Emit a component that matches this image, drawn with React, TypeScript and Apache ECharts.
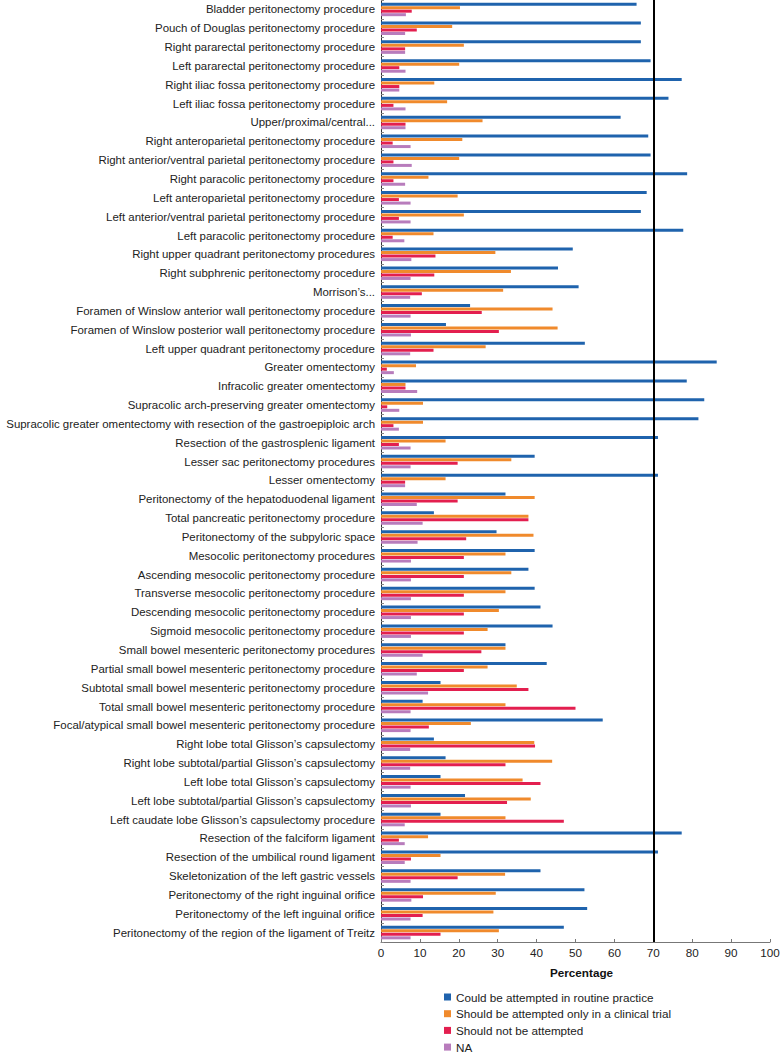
import React, { useEffect, useRef } from "react";
import * as echarts from "echarts";

const categories = [
  "Bladder peritonectomy procedure",
  "Pouch of Douglas peritonectomy procedure",
  "Right pararectal peritonectomy procedure",
  "Left pararectal peritonectomy procedure",
  "Right iliac fossa peritonectomy procedure",
  "Left iliac fossa peritonectomy procedure",
  "Upper/proximal/central...",
  "Right anteroparietal peritonectomy procedure",
  "Right anterior/ventral parietal peritonectomy procedure",
  "Right paracolic peritonectomy procedure",
  "Left anteroparietal peritonectomy procedure",
  "Left anterior/ventral parietal peritonectomy procedure",
  "Left paracolic peritonectomy procedure",
  "Right upper quadrant peritonectomy procedures",
  "Right subphrenic peritonectomy procedure",
  "Morrison\u2019s...",
  "Foramen of Winslow anterior wall peritonectomy procedure",
  "Foramen of Winslow posterior wall peritonectomy procedure",
  "Left upper quadrant peritonectomy procedure",
  "Greater omentectomy",
  "Infracolic greater omentectomy",
  "Supracolic arch-preserving greater omentectomy",
  "Supracolic greater omentectomy with resection of the gastroepiploic arch",
  "Resection of the gastrosplenic ligament",
  "Lesser sac peritonectomy procedures",
  "Lesser omentectomy",
  "Peritonectomy of the hepatoduodenal ligament",
  "Total pancreatic peritonectomy procedure",
  "Peritonectomy of the subpyloric space",
  "Mesocolic peritonectomy procedures",
  "Ascending mesocolic peritonectomy procedure",
  "Transverse mesocolic peritonectomy procedure",
  "Descending mesocolic peritonectomy procedure",
  "Sigmoid mesocolic peritonectomy procedure",
  "Small bowel mesenteric peritonectomy procedures",
  "Partial small bowel mesenteric peritonectomy procedure",
  "Subtotal small bowel mesenteric peritonectomy procedure",
  "Total small bowel mesenteric peritonectomy procedure",
  "Focal/atypical small bowel mesenteric peritonectomy procedure",
  "Right lobe total Glisson\u2019s capsulectomy",
  "Right lobe subtotal/partial Glisson\u2019s capsulectomy",
  "Left lobe total Glisson\u2019s capsulectomy",
  "Left lobe subtotal/partial Glisson\u2019s capsulectomy",
  "Left caudate lobe Glisson\u2019s capsulectomy procedure",
  "Resection of the falciform ligament",
  "Resection of the umbilical round ligament",
  "Skeletonization of the left gastric vessels",
  "Peritonectomy of the right inguinal orifice",
  "Peritonectomy of the left inguinal orifice",
  "Peritonectomy of the region of the ligament of Treitz",
];

const routine = [
  65.7, 66.8, 66.8, 69.3, 77.3, 73.9, 61.6, 68.7, 69.3, 78.7,
  68.3, 66.8, 77.7, 49.3, 45.5, 50.8, 22.9, 16.7, 52.4, 86.3,
  78.6, 83.1, 81.6, 71.2, 39.5, 71.2, 32.0, 13.6, 29.7, 39.5,
  37.9, 39.5, 41.0, 44.1, 32.0, 42.6, 15.3, 10.7, 57.0, 13.6,
  16.6, 15.3, 21.6, 15.3, 77.3, 71.2, 41.0, 52.3, 53.0, 47.0,
];

const clinicalTrial = [
  20.3, 18.3, 21.3, 20.1, 13.7, 17.0, 26.1, 20.9, 20.1, 12.2,
  19.7, 21.3, 13.5, 29.4, 33.4, 31.4, 44.1, 45.4, 26.9, 9.0,
  6.3, 10.8, 10.8, 16.6, 33.5, 16.6, 39.5, 37.9, 39.2, 32.0,
  33.5, 32.0, 30.3, 27.4, 32.0, 27.4, 34.9, 32.0, 23.1, 39.4,
  44.0, 36.4, 38.5, 32.0, 12.1, 15.3, 31.9, 29.5, 28.9, 30.3,
];

const notAttempted = [
  7.9, 9.2, 6.2, 4.7, 4.7, 3.2, 6.3, 3.0, 3.2, 3.2,
  4.6, 4.6, 3.0, 14.0, 13.7, 10.5, 25.9, 30.3, 13.5, 1.5,
  6.3, 1.6, 3.2, 4.6, 19.7, 6.2, 19.7, 37.9, 21.9, 21.3,
  21.3, 21.3, 21.3, 21.3, 25.8, 21.3, 37.9, 50.0, 12.3, 39.6,
  32.0, 41.0, 32.4, 47.0, 4.6, 7.7, 19.7, 10.8, 10.7, 15.3,
];

const na = [
  6.4, 6.2, 6.2, 6.3, 4.7, 6.3, 6.3, 7.6, 7.9, 6.2,
  7.6, 7.6, 6.0, 7.8, 7.6, 7.5, 7.6, 7.7, 7.5, 3.3,
  9.3, 4.7, 4.6, 7.6, 7.6, 6.2, 9.2, 10.7, 9.4, 7.7,
  7.7, 7.7, 7.7, 7.7, 10.7, 9.2, 12.1, 7.6, 7.6, 7.5,
  7.5, 7.6, 7.7, 6.1, 6.1, 6.1, 7.6, 7.8, 7.6, 7.6,
];

const seriesNames = [
  "Could be attempted in routine practice",
  "Should be attempted only in a clinical trial",
  "Should not be attempted",
  "NA",
];
const seriesColors = ["#1f63ad", "#f08a2c", "#e31f4f", "#b87cbc"];
const seriesData = [routine, clinicalTrial, notAttempted, na];

const thresholdValue = 70;

export default function App() {
  const ref = useRef<HTMLDivElement>(null);

  useEffect(() => {
    if (!ref.current) return;
    const chart = echarts.init(ref.current, undefined, { renderer: "svg" });
    const font = "Liberation Sans, Arial, Helvetica, sans-serif";
    chart.setOption({
      animation: false,
      textStyle: { fontFamily: font },
      grid: {
        left: 381,
        right: 10,
        top: 0,
        bottom: 116,
        containLabel: false,
        outerBoundsMode: "none",
      },
      legend: {
        orient: "vertical",
        left: 444,
        top: 991,
        height: 67,
        padding: 0,
        itemWidth: 7,
        itemHeight: 7,
        itemGap: 4.7,
        icon: "rect",
        textStyle: { fontSize: 11.7, color: "#222", fontFamily: font },
        data: seriesNames,
      },
      xAxis: {
        type: "value",
        min: 0,
        max: 100,
        interval: 10,
        name: "Percentage",
        nameLocation: "middle",
        nameGap: 24,
        nameTextStyle: {
          fontSize: 11.7,
          fontWeight: "bold",
          color: "#111",
          fontFamily: font,
          padding: [0, 0, 0, 12],
        },
        axisLine: { show: true, lineStyle: { color: "#777", width: 1 } },
        axisTick: { show: true, inside: true, length: 3, lineStyle: { color: "#777" } },
        axisLabel: { fontSize: 11.7, color: "#222", margin: 4, fontFamily: font },
        splitLine: { show: false },
      },
      yAxis: {
        type: "category",
        inverse: true,
        data: categories,
        axisLine: { show: true, lineStyle: { color: "#333", width: 1 } },
        axisTick: { show: true, inside: true, length: 3, lineStyle: { color: "#888" } },
        axisLabel: { fontSize: 11.45, color: "#222", margin: 6, fontFamily: font, interval: 0 },
      },
      series: seriesNames.map((name, i) => ({
        name,
        type: "bar",
        data: seriesData[i],
        barWidth: 3,
        barGap: "17%",
        itemStyle: { color: seriesColors[i] },
        ...(i === 0
          ? {
              markLine: {
                silent: true,
                symbol: ["none", "none"],
                label: { show: false },
                lineStyle: { color: "#000", width: 2, type: "solid" },
                data: [{ xAxis: thresholdValue }],
              },
            }
          : {}),
      })),
    });
    return () => chart.dispose();
  }, []);

  return (
    <div
      ref={ref}
      style={{ position: "absolute", left: 0, top: 0, width: 780, height: 1058 }}
    />
  );
}
